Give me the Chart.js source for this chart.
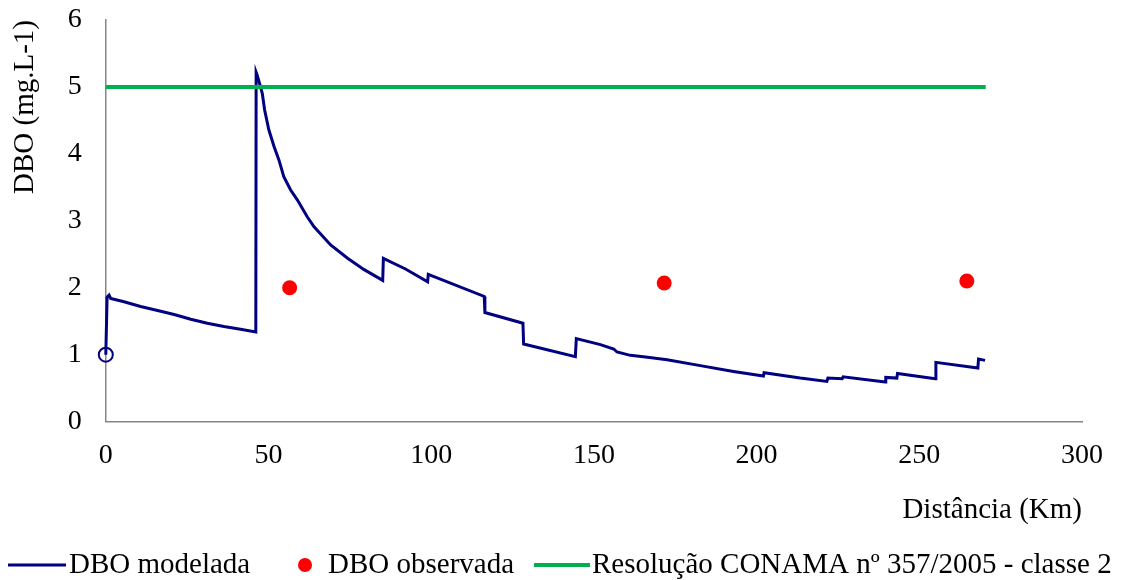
<!DOCTYPE html>
<html>
<head>
<meta charset="utf-8">
<script src="https://cdn.jsdelivr.net/npm/chart.js@4.4.1/dist/chart.umd.min.js"></script>
<style>
  html, body { margin: 0; padding: 0; background: #fff; }
  #wrap { width: 1123px; height: 580px; position: relative; }
</style>
</head>
<body>
<div id="wrap"><canvas id="dboChart"></canvas></div>
<script>
// Dados
const modelX = [0, 0.4, 1.0, 1.5, 5.6, 10.7, 15.9, 21.0, 26.1, 31.2, 36.3, 41.4, 46.1,
  46.2, 46.5, 47.1, 48.1, 48.8, 50.1, 51.7, 53.2, 54.7, 56.8, 58.9, 61.9, 64.0, 69.1, 74.3, 79.4, 85.1,
  85.3, 92.1, 98.9,
  99.1, 116.3,
  116.5, 128.2,
  128.4, 144.3,
  144.6, 152.0, 156.1, 157.1, 161.2, 166.5, 172.5, 182.7, 192.9, 202.1,
  202.3, 213.4, 221.6,
  221.9, 226.3,
  226.6, 239.5,
  239.7, 243.1,
  243.3, 254.9,
  255.1, 268.0,
  268.2, 270.2];
const modelY = [1.0, 1.86, 1.89, 1.84, 1.79, 1.72, 1.66, 1.60, 1.53, 1.47, 1.42, 1.38, 1.34,
  5.22, 5.18, 5.08, 4.90, 4.66, 4.36, 4.11, 3.91, 3.66, 3.46, 3.31, 3.06, 2.91, 2.64, 2.44, 2.27, 2.11,
  2.44, 2.28, 2.09,
  2.20, 1.87,
  1.63, 1.47,
  1.16, 0.97,
  1.24, 1.15, 1.085, 1.04, 0.99, 0.96, 0.925, 0.836, 0.75, 0.68,
  0.73, 0.65, 0.60,
  0.65, 0.64,
  0.67, 0.59,
  0.66, 0.65,
  0.72, 0.64,
  0.885, 0.80,
  0.935, 0.915];

const obsX = [56.5, 171.6, 264.6];
const obsY = [2.0, 2.07, 2.10];

const limitX = [0, 270.4];
const limitY = [5, 5];

const labels = ['DBO modelada', 'DBO observada', 'Resolução CONAMA nº 357/2005 - classe 2'];

const NAVY = '#000080';
const RED = '#ff0000';
const GREEN = '#00b050';
const AXIS = '#868686';
const FONT = "'Liberation Serif', 'Times New Roman', serif";

const toPoints = (xs, ys) => xs.map((x, i) => ({ x: x, y: ys[i] }));

// legenda desenhada à mão, no rodapé
const bottomLegend = {
  id: 'bottomLegend',
  afterDraw(chart) {
    const ctx = chart.ctx;
    const y = 565;
    ctx.save();
    ctx.font = '29px ' + FONT;
    ctx.fillStyle = '#000';
    ctx.textBaseline = 'middle';
    ctx.textAlign = 'left';

    ctx.strokeStyle = NAVY;
    ctx.lineWidth = 3;
    ctx.beginPath(); ctx.moveTo(8, y); ctx.lineTo(66, y); ctx.stroke();
    ctx.fillText(labels[0], 69, y);

    ctx.fillStyle = RED;
    ctx.beginPath(); ctx.arc(305, y, 7, 0, Math.PI * 2); ctx.fill();
    ctx.fillStyle = '#000';
    ctx.fillText(labels[1], 328, y);

    ctx.strokeStyle = GREEN;
    ctx.lineWidth = 4;
    ctx.beginPath(); ctx.moveTo(534, y); ctx.lineTo(590, y); ctx.stroke();
    ctx.fillText(labels[2], 592, y);
    ctx.restore();
  }
};

const chart = new Chart(document.getElementById('dboChart').getContext('2d'), {
  type: 'scatter',
  data: {
    datasets: [
      {
        label: labels[2],
        data: toPoints(limitX, limitY),
        showLine: true,
        borderColor: GREEN,
        borderWidth: 4,
        pointRadius: 0,
        order: 0
      },
      {
        label: labels[1],
        data: toPoints(obsX, obsY),
        showLine: false,
        pointRadius: 7.5,
        pointBackgroundColor: RED,
        pointBorderColor: RED,
        pointBorderWidth: 0,
        order: 0
      },
      {
        label: labels[0],
        data: toPoints(modelX, modelY),
        showLine: true,
        clip: false,
        borderColor: NAVY,
        borderWidth: 3,
        tension: 0,
        pointRadius: c => c.dataIndex === 0 ? 7 : 0,
        pointBorderColor: NAVY,
        pointBackgroundColor: 'rgba(0,0,0,0)',
        pointBorderWidth: 2,
        order: 1
      }
    ]
  },
  options: {
    responsive: true,
    maintainAspectRatio: false,
    animation: false,
    layout: { padding: { left: 8, right: 41, top: 20, bottom: 52 } },
    plugins: {
      legend: { display: false },
      tooltip: { enabled: false }
    },
    scales: {
      x: {
        type: 'linear',
        min: 0,
        max: 300,
        grid: { drawOnChartArea: false, drawTicks: false },
        border: { color: AXIS, width: 1.5 },
        ticks: { stepSize: 50, color: '#000', padding: 17, font: { family: FONT, size: 28 } },
        title: {
          display: true,
          text: 'Distância (Km)',
          align: 'end',
          color: '#000',
          padding: { top: 4, bottom: 0 },
          font: { family: FONT, size: 29 }
        }
      },
      y: {
        min: 0,
        max: 6,
        // marcas invisíveis só para afastar os rótulos do eixo
        grid: { drawOnChartArea: false, drawTicks: true, tickLength: 24, tickColor: 'rgba(0,0,0,0)' },
        border: { color: AXIS, width: 1.5 },
        ticks: { stepSize: 1, color: '#000', padding: 0, font: { family: FONT, size: 28 } },
        title: {
          display: true,
          text: 'DBO (mg.L-1)',
          align: 'end',
          color: '#000',
          padding: { top: 0, bottom: 25 },
          font: { family: FONT, size: 29 }
        }
      }
    }
  },
  plugins: [bottomLegend]
});
</script>
</body>
</html>
